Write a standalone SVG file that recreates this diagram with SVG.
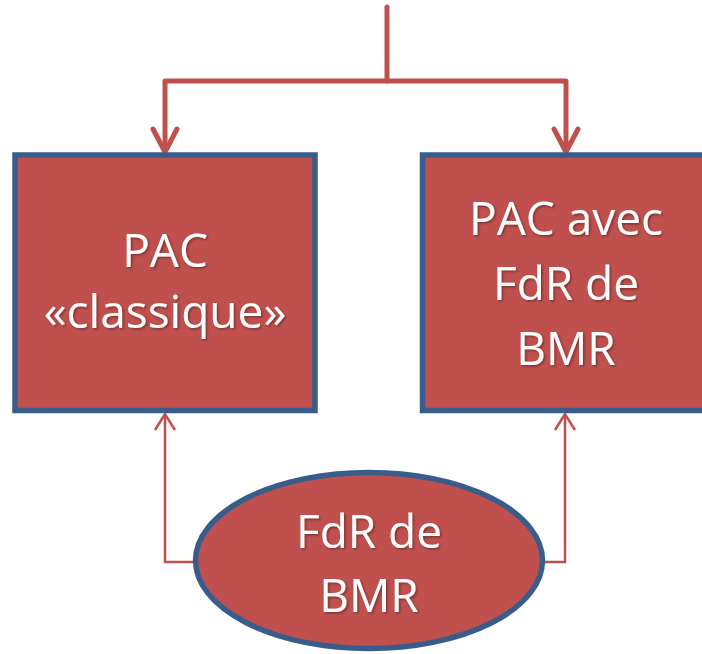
<svg xmlns="http://www.w3.org/2000/svg" width="702" height="654" viewBox="0 0 702 654">
<defs>
<filter id="sh" x="-10%" y="-10%" width="120%" height="130%">
<feDropShadow dx="1.5" dy="1.5" stdDeviation="1" flood-color="#000" flood-opacity="0.35"/>
</filter>
</defs>
<style>
.node{fill:#C0504D;stroke:#385D8A;stroke-width:5.5}
.lbl{font-family:"Open Sans",Lato,"Liberation Sans",sans-serif;font-size:46px;fill:#fff;text-anchor:middle;filter:url(#sh)}
.thick{fill:none;stroke:#C0504D;stroke-width:5;stroke-linejoin:round;stroke-linecap:round}
.thin{fill:none;stroke:#C0504D;stroke-width:2.5;stroke-linejoin:miter}
</style>
<rect width="702" height="654" fill="#fff"/>
<g id="connectors">
<path class="thick" d="M387 7 V81"/>
<path class="thick" d="M165 151 V81 H566 V151"/>
<path class="thick" d="M153 129 L165 152 L177 129"/>
<path class="thick" d="M554 129 L566 152 L578 129"/>
<path class="thin" d="M196 562 H165 V414"/>
<path class="thin" d="M155 430 L165 414 L175 430"/>
<path class="thin" d="M542 562 H565 V414"/>
<path class="thin" d="M555 430 L565 414 L575 430"/>
</g>
<g id="node-classique">
<rect class="node" x="15" y="155" width="300" height="255.5"/>
<text class="lbl" x="165" y="267">PAC</text>
<text class="lbl" x="165" y="328">«classique»</text>
</g>
<g id="node-avec">
<rect class="node" x="422.5" y="155" width="310" height="255.5"/>
<text class="lbl" x="566" y="235">PAC avec</text>
<text class="lbl" x="566" y="300">FdR de</text>
<text class="lbl" x="566" y="365">BMR</text>
</g>
<g id="node-fdr">
<ellipse class="node" cx="369" cy="560.5" rx="173.5" ry="88"/>
<text class="lbl" x="369" y="548">FdR de</text>
<text class="lbl" x="369" y="612">BMR</text>
</g>
</svg>
